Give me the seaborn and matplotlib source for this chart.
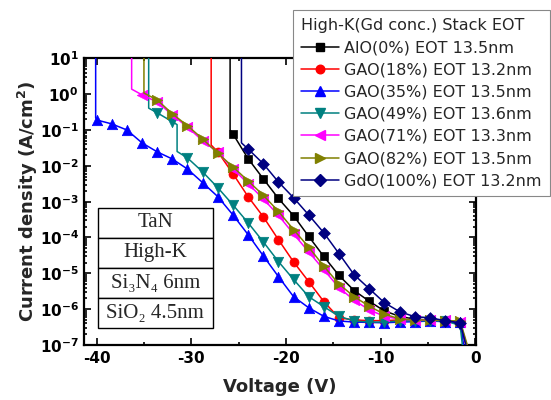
import numpy as np
import matplotlib
matplotlib.use("Agg")
import matplotlib.pyplot as plt
import seaborn as sns
from matplotlib.lines import Line2D
from matplotlib.patches import Rectangle
from matplotlib.ticker import MultipleLocator, LogLocator, FuncFormatter, NullFormatter

# voltage steps of the sweep (V); each series uses the tail of this list
volt_steps = [-40.0, -38.4, -36.8, -35.2, -33.6, -32.0, -30.4, -28.8, -27.2,
              -25.6, -24.0, -22.4, -20.8, -19.2, -17.6, -16.0, -14.4, -12.8,
              -11.2, -9.6, -8.0, -6.4, -4.8, -3.2, -1.6]

# log10 of current density (A/cm^2) at the marked points
alo_log_j = [-1.11, -1.80, -2.36, -2.91, -3.39, -3.97, -4.53, -5.06, -5.48,
             -5.78, -6.05, -6.20, -6.28, -6.30, -6.32, -6.38]
gao18_log_j = [-1.61, -2.22, -2.86, -3.42, -4.06, -4.68, -5.23, -5.79, -6.24,
               -6.30, -6.32, -6.32, -6.30, -6.31, -6.33, -6.34, -6.38]
gao35_log_j = [-0.72, -0.83, -1.00, -1.36, -1.61, -1.81, -2.09, -2.47, -2.86,
               -3.37, -3.92, -4.51, -5.09, -5.65, -5.96, -6.20, -6.33, -6.36,
               -6.37, -6.38, -6.36, -6.35, -6.33, -6.35, -6.37]
gao49_log_j = [-0.52, -0.77, -1.78, -2.17, -2.61, -3.09, -3.59, -4.12, -4.67,
               -5.17, -5.65, -5.93, -6.20, -6.33, -6.36, -6.36, -6.33, -6.32,
               -6.33, -6.33, -6.45]
gao71_log_j = [-0.02, -0.22, -0.58, -0.92, -1.30, -1.62, -2.08, -2.50, -2.92,
               -3.38, -3.90, -4.40, -4.90, -5.40, -5.75, -6.02, -6.20, -6.28,
               -6.30, -6.30, -6.30, -6.35]
gao82_log_j = [-0.16, -0.55, -0.88, -1.25, -1.65, -2.03, -2.42, -2.82, -3.27,
               -3.78, -4.27, -4.80, -5.30, -5.65, -5.92, -6.14, -6.27, -6.30,
               -6.30, -6.32, -6.33]
gdo_log_j = [-1.53, -1.94, -2.45, -2.89, -3.37, -3.87, -4.45, -5.04, -5.43,
             -5.82, -6.07, -6.21, -6.24, -6.32, -6.38]

# breakdown: voltage of the vertical jump and log10 J where it lands
bd_volt = [-25.9, -27.9, -40.1, -34.5, -36.3, -35.0, -24.7]
bd_log_j = [-1.00, -1.42, -0.66, -0.39, 0.14, 0.03, -1.36]
# voltage where each curve falls off the bottom near 0 V
end_volt = [-0.5, -0.6, -1.0, -1.2, -0.5, -0.4, -0.6]
# extra step inside the GAO(49%) trace (V, log10 J)
gao49_step_v = [-31.5, -31.5]
gao49_step_log_j = [-0.85, -1.60]

labels = ["AlO(0%) EOT 13.5nm", "GAO(18%) EOT 13.2nm", "GAO(35%) EOT 13.5nm",
          "GAO(49%) EOT 13.6nm", "GAO(71%) EOT 13.3nm", "GAO(82%) EOT 13.5nm",
          "GdO(100%) EOT 13.2nm"]
stack_layers = ["TaN", "High-K", "Si\u2083N\u2084 6nm", "SiO\u2082 4.5nm"]

series_log_j = [alo_log_j, gao18_log_j, gao35_log_j, gao49_log_j,
                gao71_log_j, gao82_log_j, gdo_log_j]
colors = ["black", "red", "blue", "#008080", "magenta", "#808000", "#000080"]
markers = ["s", "o", "^", "v", "<", ">", "D"]
msizes = [6, 6.5, 7.5, 7.5, 7.5, 7.5, 6]

sns.set_style("ticks")
plt.rcParams["font.family"] = ["DejaVu Sans"]
plt.rcParams["font.weight"] = "bold"
plt.rcParams["axes.unicode_minus"] = False

fig = plt.figure(figsize=(5.51, 4.0), dpi=100)
ax = fig.add_axes([0.153, 0.1375, 0.7105, 0.7167])

handles = []
for i, log_j in enumerate(series_log_j):
    v_mark = volt_steps[-len(log_j):]
    j_mark = [10 ** x for x in log_j]
    pts = list(zip(v_mark, log_j))
    if i == 3:
        pts = sorted(pts + list(zip(gao49_step_v, gao49_step_log_j)), key=lambda p: p[0])
    path_v = [bd_volt[i], bd_volt[i]] + [p[0] for p in pts] + [end_volt[i]]
    path_j = [1e2, 10 ** bd_log_j[i]] + [10 ** p[1] for p in pts] + [10 ** -7.4]
    sns.lineplot(x=path_v, y=path_j, ax=ax, sort=False, estimator=None,
                 color=colors[i], linewidth=1.1, zorder=2 + 2 * i)
    sns.scatterplot(x=v_mark, y=j_mark, ax=ax, marker=markers[i], color=colors[i],
                    edgecolor=colors[i], linewidth=0.5, s=msizes[i] ** 2,
                    zorder=3 + 2 * i)
    handles.append(Line2D([], [], color=colors[i], marker=markers[i],
                          markersize=msizes[i] * 0.95, markeredgecolor=colors[i],
                          linewidth=1.1))

ax.set_yscale("log")
ax.set_xlim(-41.3, 0.05)
ax.set_ylim(1e-7, 1e1)
ax.xaxis.set_major_locator(MultipleLocator(10))
ax.xaxis.set_minor_locator(MultipleLocator(5))
ax.yaxis.set_major_locator(LogLocator(base=10, numticks=20))
ax.yaxis.set_minor_locator(LogLocator(base=10, subs=np.arange(2, 10), numticks=20))
ax.yaxis.set_major_formatter(FuncFormatter(lambda v, p: r"$\mathbf{10^{%d}}$" % round(np.log10(v))))
ax.yaxis.set_minor_formatter(NullFormatter())
ax.tick_params(which="both", direction="in", top=True, right=True, width=1.2,
               labelsize=11, colors="black")
ax.tick_params(which="major", length=5, pad=4)
ax.tick_params(which="minor", length=2.5)
for sp in ax.spines.values():
    sp.set_linewidth(1.6)
    sp.set_color("black")

ax.set_xlabel("Voltage (V)", fontsize=13, fontweight="bold", labelpad=9)
ax.set_ylabel(r"Current density (A/cm$^\mathbf{2}$)", fontsize=13,
              fontweight="bold", labelpad=0)

# layer stack inset
x0, w = 0.034, 0.294
top, row_h = 0.478, 0.1047
for k, name in enumerate(stack_layers):
    y = top - (k + 1) * row_h
    ax.add_patch(Rectangle((x0, y), w, row_h, transform=ax.transAxes,
                           facecolor="white", edgecolor="black", linewidth=1.0,
                           zorder=20))
    ax.text(x0 + w / 2, y + row_h / 2, name, transform=ax.transAxes,
            ha="center", va="center", fontsize=15, fontweight="normal",
            family=["Liberation Serif", "DejaVu Serif"], zorder=21)

leg = fig.legend(handles, labels, title="High-K(Gd conc.) Stack EOT",
                 loc="upper left", bbox_to_anchor=(0.532, 0.975),
                 prop={"size": 11.5, "weight": "normal"},
                 title_fontproperties={"size": 11.5, "weight": "normal"},
                 alignment="left", frameon=True, fancybox=False,
                 edgecolor="#888888", framealpha=1, labelspacing=0.45,
                 handlelength=2.4, handletextpad=0.3, borderpad=0.5,
                 borderaxespad=0)
leg.get_frame().set_linewidth(0.8)

fig.savefig("out.png", dpi=100)
